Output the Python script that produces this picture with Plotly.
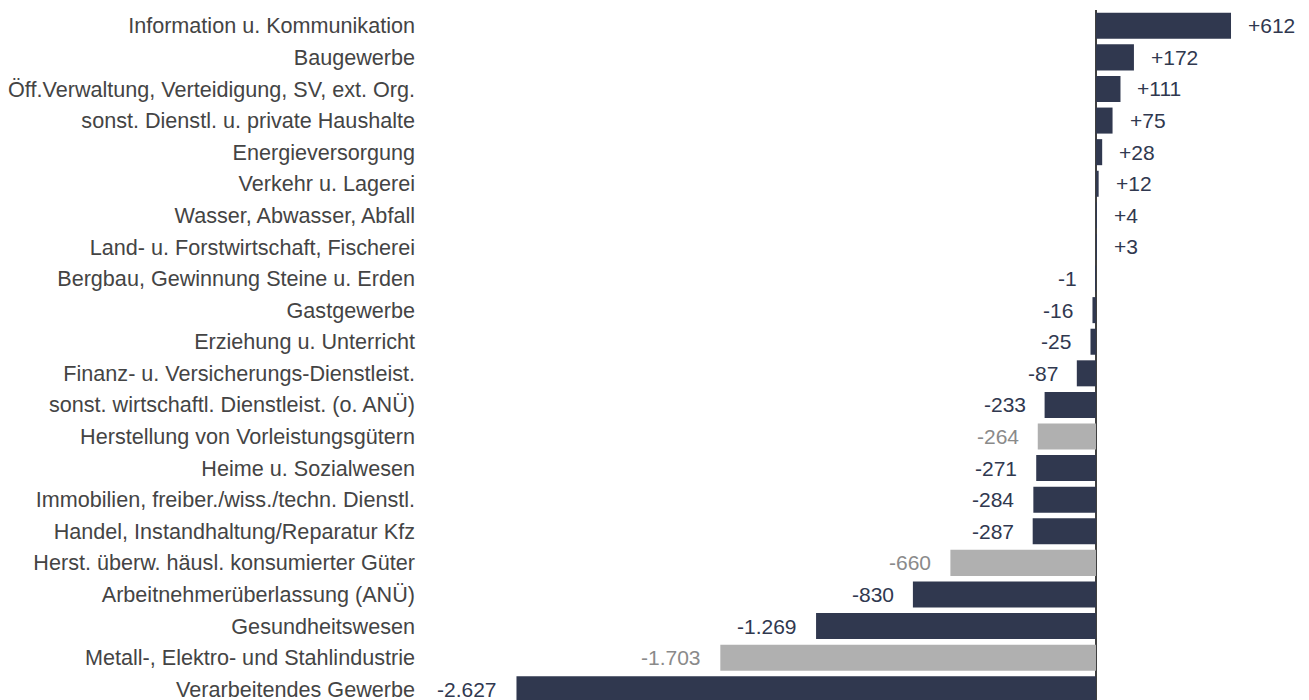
import plotly.graph_objects as go

categories = [
    "Information u. Kommunikation",
    "Baugewerbe",
    "Öff.Verwaltung, Verteidigung, SV, ext. Org.",
    "sonst. Dienstl. u. private Haushalte",
    "Energieversorgung",
    "Verkehr u. Lagerei",
    "Wasser, Abwasser, Abfall",
    "Land- u. Forstwirtschaft, Fischerei",
    "Bergbau, Gewinnung Steine u. Erden",
    "Gastgewerbe",
    "Erziehung u. Unterricht",
    "Finanz- u. Versicherungs-Dienstleist.",
    "sonst. wirtschaftl. Dienstleist. (o. ANÜ)",
    "Herstellung von Vorleistungsgütern",
    "Heime u. Sozialwesen",
    "Immobilien, freiber./wiss./techn. Dienstl.",
    "Handel, Instandhaltung/Reparatur Kfz",
    "Herst. überw. häusl. konsumierter Güter",
    "Arbeitnehmerüberlassung (ANÜ)",
    "Gesundheitswesen",
    "Metall-, Elektro- und Stahlindustrie",
    "Verarbeitendes Gewerbe",
]
values = [612, 172, 111, 75, 28, 12, 4, 3, -1, -16, -25, -87, -233, -264, -271,
          -284, -287, -660, -830, -1269, -1703, -2627]
value_labels = ["+612", "+172", "+111", "+75", "+28", "+12", "+4", "+3", "-1", "-16",
                "-25", "-87", "-233", "-264", "-271", "-284", "-287", "-660", "-830",
                "-1.269", "-1.703", "-2.627"]
is_subgroup = [False] * 13 + [True] + [False] * 3 + [True] + [False] * 2 + [True] + [False]

DARK = "#30384f"
GRAY = "#b0b0b0"
bar_colors = [GRAY if s else DARK for s in is_subgroup]
text_colors = ["#8a8a8a" if s else "#30384f" for s in is_subgroup]
FONT = "Liberation Sans, Arial, sans-serif"
FS = 21

fig = go.Figure()
fig.add_trace(go.Bar(
    y=categories, x=values, orientation="h",
    marker=dict(color=bar_colors, line=dict(width=0)),
    hoverinfo="skip",
))

for cat, v, lab, col in zip(categories, values, value_labels, text_colors):
    pos = lab.startswith("+")
    fig.add_annotation(
        x=v, y=cat, text=lab, showarrow=False,
        xanchor="left" if pos else "right",
        xshift=15 if pos else -17,
        font=dict(family=FONT, size=FS, color=col),
    )

W, H = 1301, 692
k = 0.2206  # px per unit
left = 416
zero_px = 1096 - 8
a = -(zero_px - left) / k
b = a + (W - left) / k

fig.update_layout(
    width=W, height=H,
    margin=dict(l=left, r=0, t=2, b=0),
    paper_bgcolor="white", plot_bgcolor="white",
    bargap=0.176,
    showlegend=False,
    font=dict(family=FONT, size=FS, color="#404040"),
    xaxis=dict(range=[a, b], showticklabels=False, showgrid=False,
               zeroline=True, zerolinecolor="#404040", zerolinewidth=2,
               showline=False, fixedrange=True),
    yaxis=dict(range=[21.34, -0.5], type="category", showgrid=False,
               showline=False, zeroline=False, ticks="",
               tickfont=dict(size=21.6, color="#444444"), automargin=False,
               ticklabelstandoff=8),
)

fig.write_html("out.html")
